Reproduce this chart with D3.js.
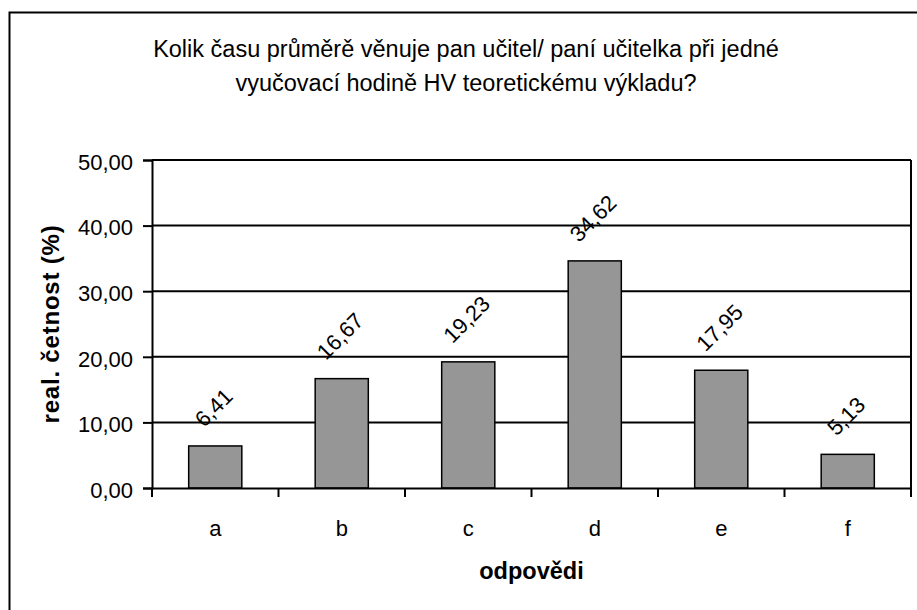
<!DOCTYPE html>
<html>
<head>
<meta charset="utf-8">
<script src="https://cdn.jsdelivr.net/npm/d3@7"></script>
<style>
  body { margin: 0; background: #fff; }
  svg { display: block; font-family: 'Liberation Sans', Arial, sans-serif; }
</style>
</head>
<body>
<div id="chart"></div>
<script>
// data
let categories = ['a', 'b', 'c', 'd', 'e', 'f']
let values = [6.41, 16.67, 19.23, 34.62, 17.95, 5.13]
let yTicks = [0, 10, 20, 30, 40, 50]
let titleLines = [
  'Kolik času průměrě věnuje pan učitel/ paní učitelka při jedné',
  'vyučovací hodině HV teoretickému výkladu?'
]
let xTitle = 'odpovědi'
let yTitle = 'real. četnost (%)'

let width = 917
let height = 610
let margin = { top: 160, left: 152, right: 6, bottom: 122 }

let cz = d3.formatLocale({ decimal: ',', thousands: ' ', grouping: [3], currency: ['', ''] })
let fmt = cz.format('.2f')

let svg = d3.select('#chart')
  .append('svg')
  .attr('width', width)
  .attr('height', height)

// outer chart border (cut off at right and bottom in the reference)
svg.append('rect')
  .attr('x', 9.5)
  .attr('y', 12.5)
  .attr('width', 914)
  .attr('height', 610)
  .attr('fill', 'none')
  .attr('stroke', '#000')
  .attr('stroke-width', 2)

let xPositionScale = d3.scaleBand()
  .domain(categories)
  .range([margin.left, width - margin.right])
  .paddingInner(0.58)
  .paddingOuter(0.29)

let yPositionScale = d3.scaleLinear()
  .domain([0, 50])
  .range([height - margin.bottom, margin.top])

let x0 = margin.left
let x1 = width - margin.right
let yBottom = yPositionScale(0)

// gridlines
svg.append('g')
  .selectAll('line')
  .data(yTicks.filter(d => d > 0))
  .enter()
  .append('line')
  .attr('x1', x0)
  .attr('x2', x1)
  .attr('y1', d => yPositionScale(d))
  .attr('y2', d => yPositionScale(d))
  .attr('stroke', '#000')
  .attr('stroke-width', 2)

// plot area right border
svg.append('line')
  .attr('x1', x1)
  .attr('x2', x1)
  .attr('y1', yPositionScale(50))
  .attr('y2', yBottom)
  .attr('stroke', '#000')
  .attr('stroke-width', 2)

// bars
svg.append('g')
  .selectAll('rect')
  .data(values)
  .enter()
  .append('rect')
  .attr('x', (d, i) => xPositionScale(categories[i]))
  .attr('width', xPositionScale.bandwidth())
  .attr('y', d => yPositionScale(d))
  .attr('height', d => yBottom - yPositionScale(d))
  .attr('fill', '#969696')
  .attr('stroke', '#000')
  .attr('stroke-width', 1.5)

// y axis
let yAxis = d3.axisLeft(yPositionScale)
  .tickValues(yTicks)
  .tickSize(9)
  .tickPadding(10)
  .tickFormat(fmt)

svg.append('g')
  .attr('class', 'axis y-axis')
  .attr('transform', `translate(${x0},0)`)
  .call(yAxis)

// x axis, ticks sit between the categories
let xAxis = d3.axisBottom(xPositionScale)
  .tickSize(0)
  .tickPadding(32)

let xg = svg.append('g')
  .attr('class', 'axis x-axis')
  .attr('transform', `translate(0,${yBottom})`)
  .call(xAxis)

let step = xPositionScale.step()
xg.selectAll('.sep')
  .data(d3.range(categories.length + 1))
  .enter()
  .append('line')
  .attr('class', 'sep')
  .attr('x1', i => x0 + i * step)
  .attr('x2', i => x0 + i * step)
  .attr('y1', 0)
  .attr('y2', 9)
  .attr('stroke', '#000')
  .attr('stroke-width', 2)

svg.selectAll('.axis path.domain')
  .attr('stroke', '#000')
  .attr('stroke-width', 2)
svg.selectAll('.axis .tick line')
  .attr('stroke', '#000')
  .attr('stroke-width', 2)
svg.selectAll('.axis text')
  .attr('fill', '#000')
  .attr('font-size', 22)
  .attr('font-family', "'Liberation Sans', Arial, sans-serif")
svg.selectAll('.y-axis .tick text').attr('dy', '0.42em')
xg.selectAll('.tick text').attr('dy', '0.71em')

// rotated value labels
svg.append('g')
  .selectAll('text')
  .data(values)
  .enter()
  .append('text')
  .text(d => fmt(d))
  .attr('font-size', 22)
  .attr('text-anchor', 'middle')
  .attr('dominant-baseline', 'central')
  .attr('fill', '#000')
  .attr('transform', function(d, i) {
    let len = this.getComputedTextLength()
    let cx = xPositionScale(categories[i]) + xPositionScale.bandwidth() / 2 - 1.5
    let cy = yPositionScale(d) - (len / 2 * Math.SQRT1_2 + 23)
    return `translate(${cx},${cy}) rotate(-45)`
  })

// title
svg.append('g')
  .selectAll('text')
  .data(titleLines)
  .enter()
  .append('text')
  .text(d => d)
  .attr('x', 466)
  .attr('y', (d, i) => 57 + i * 34)
  .attr('text-anchor', 'middle')
  .attr('font-size', 23.5)
  .attr('fill', '#000')

// axis titles
svg.append('text')
  .text(xTitle)
  .attr('x', (x0 + x1) / 2)
  .attr('y', 579)
  .attr('text-anchor', 'middle')
  .attr('font-size', 23.5)
  .attr('font-weight', 'bold')

svg.append('text')
  .text(yTitle)
  .attr('transform', `translate(59,${(yPositionScale(0) + yPositionScale(50)) / 2}) rotate(-90)`)
  .attr('text-anchor', 'middle')
  .attr('font-size', 24)
  .attr('letter-spacing', 0.8)
  .attr('font-weight', 'bold')
</script>
</body>
</html>
